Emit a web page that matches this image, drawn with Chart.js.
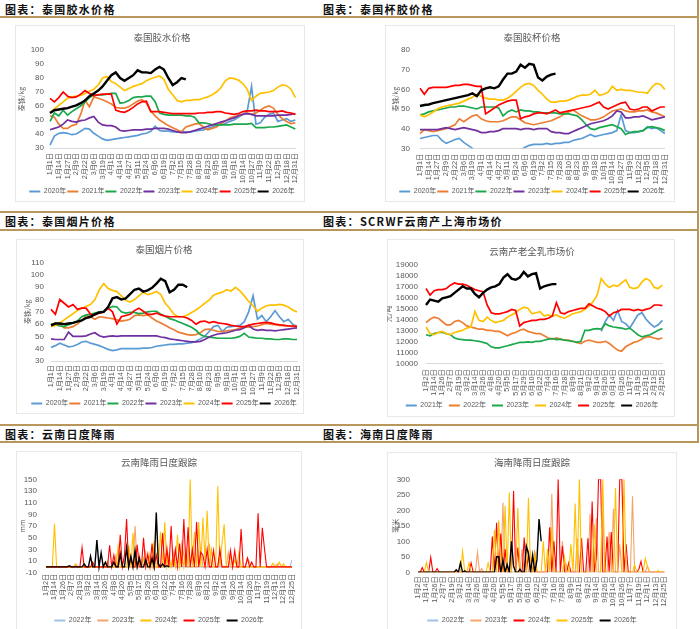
<!DOCTYPE html>
<html><head><meta charset="utf-8">
<script src="https://cdn.jsdelivr.net/npm/chart.js@4.4.1/dist/chart.umd.min.js"></script>
<style>
html,body{margin:0;padding:0;background:#fff;}
body{width:700px;height:629px;position:relative;overflow:hidden;font-family:'Noto Sans CJK SC',sans-serif;}
.hline{position:absolute;left:0;width:698px;height:2px;background:#b9975b;}
.vline{position:absolute;left:697px;width:2px;background:#b9975b;}
.hdr{position:absolute;font-weight:700;font-size:11px;letter-spacing:1.3px;color:#111;line-height:14px;white-space:nowrap;}
.box{position:absolute;background:#fff;border:1px solid #e8e8e8;box-sizing:border-box;}
canvas{position:absolute;}
</style></head><body>
<div class="hdr" style="left:5px;top:2px;">图表：泰国胶水价格</div>
<div class="hdr" style="left:323px;top:2px;">图表：泰国杯胶价格</div>
<div class="hline" style="top:16px;"></div>
<div class="hline" style="top:211px;"></div>
<div class="hdr" style="left:5px;top:214px;">图表：泰国烟片价格</div>
<div class="hdr" style="left:323px;top:214px;">图表：SCRWF云南产上海市场价</div>
<div class="hline" style="top:229px;"></div>
<div class="hline" style="top:424px;"></div>
<div class="hdr" style="left:5px;top:427px;">图表：云南日度降雨</div>
<div class="hdr" style="left:323px;top:427px;">图表：海南日度降雨</div>
<div class="hline" style="top:441px;"></div>
<div class="vline" style="top:0;height:443px;"></div>

<div class="box" style="left:15px;top:25px;width:290px;height:177px;"></div>
<div class="box" style="left:385px;top:25px;width:290px;height:177px;"></div>
<div class="box" style="left:16px;top:239px;width:288px;height:175px;"></div>
<div class="box" style="left:387px;top:239px;width:288px;height:178px;"></div>
<div class="box" style="left:16px;top:451px;width:286px;height:190px;"></div>
<div class="box" style="left:387px;top:452px;width:290px;height:190px;"></div>

<canvas id="c1"></canvas><canvas id="c2"></canvas><canvas id="c3"></canvas>
<canvas id="c4"></canvas><canvas id="c5"></canvas><canvas id="c6"></canvas>
<script>
// ---------- tick labels ----------
const thaiDates = ['1月1日','1月14日','1月27日','2月9日','2月22日','3月6日','3月19日','4月1日','4月14日','4月27日','5月11日','5月24日','6月6日','6月19日','7月2日','7月15日','7月28日','8月10日','8月23日','9月5日','9月18日','10月1日','10月14日','10月27日','11月9日','11月22日','12月5日','12月18日','12月31日'];
const ynDates = ['1月2日','1月14日','1月26日','2月7日','2月19日','3月2日','3月14日','3月26日','4月8日','4月20日','5月5日','5月17日','5月29日','6月10日','6月22日','7月4日','7月16日','7月28日','8月9日','8月21日','9月2日','9月14日','9月26日','10月14日','10月26日','11月7日','11月19日','12月1日','12月13日','12月25日'];

// ---------- 泰国胶水价格 ----------
const latex2020 = [32,38.5,40.5,41,40.5,39.5,40,42,44,43.5,40.5,38.5,36.5,35.5,36,36.5,37,37.5,38,38.5,39,40,40.5,42,45.5,42.5,42,42,41.5,41.5,41.5,41.5,41.5,42,42.5,43,44,45,46,46.5,47.5,49,50,52,54,56,74,47,48,52,54,55,49,50,51,49,50];
const latex2021 = [53,52,47,44,44,46,47,54,64,59.5,66.5,65.5,64.5,63,61.5,59,58.5,58.5,59.5,61.5,63.5,64.5,62,56.5,53,50,48,46,44.5,43,41.5,45,46,47,47.5,45,43,44,45,47.5,49,51.5,52.5,53,54,55,54,55,57,59,60,58.5,54,51,49,47.5,48];
const latex2022 = [49,55,53,57,53.5,56,58,60,63,66,68,68,68,68.5,69,69,62,62.5,64,66,66.5,66.5,67,67,63,55,54,53.5,53.5,53.5,53.5,53,53,52,48,48,47.5,46.5,46.5,46.5,46.5,46.5,47,47,47,47,47.5,44.5,44.5,44.5,45,45,45.5,46,46.5,45,43.5];
const latex2023 = [43,44,45,47,50,49,48.5,49.5,50,51.5,52.5,48.5,46.5,46,46,45,42.5,42,42.5,43,43,43,43.5,43.5,44,44,44,43.5,42.5,41.5,41,41,41.5,42.5,43.5,44.5,45.5,46.5,47.5,48.5,49.5,50.5,51.5,53,54,54.5,54,53,53,53,53,53,53.5,53.5,53.5,54,54.5];
const latex2024 = [55,58,60.5,63,65.5,66.5,67,67.5,69,70.5,72,75,80,81,77.5,76,73.5,71,72.5,74,75,76,78,79.5,80.5,81.5,79,72,68,64,63,64,64,64.5,64.5,65.5,66.5,68,70,73,78,80,79.5,78.5,76,72,64,67,69,69.5,70,71,73.5,75,74.5,72,66];
const latex2025 = [65.5,63,66,70,67,66,66.5,68.5,71,69,67.5,68,68.5,68.5,68.5,57,56,55.5,57,59,61.5,63,63.5,56,56,56,55.5,55,54.5,54.5,54.5,54.5,54.5,54.5,55,55,55.5,55.5,56,56,55,54.5,54,54.5,56,56.5,56.5,57,56.5,56.5,56,56,56,56.5,55.5,55,54];
const latex2026 = [55,57,57.5,58,58.5,59.5,60.5,62,64,67,69,71,74,78,82,84,80,78,80,82,85.5,84,84,83.5,86,88,86,80,75,77,80,79];

// ---------- 泰国胶杯价格 ----------
const cup2020 = [35,35.5,36,36.5,36.5,34,32.5,33.5,34.5,35,33,31.5,30,28,27,27,27,27,27,27,27,27,27,29,30.5,31.5,32,32,32,32.5,32,32.5,32.5,33,33,34,34.5,35,36,37,36,36.5,37,37.5,38,39,47,39,38,38,38.5,39,41,40,40.5,39,37.5];
const cup2021 = [37.5,39.5,39,38.5,39,39.5,40,41,42,45,43.5,45,46.5,47,45,44,43.5,43.5,43.5,44,45,46,46,44.5,43,42.5,42,42.5,43,43.5,44,45,46,47.5,48.5,49.5,48,46.5,45.5,44.5,44.5,45,46,47.5,49,49.5,50,49,48.5,48.5,49,49,49.5,48.5,48,47,46];
const cup2022 = [47,47.5,48.5,49,49.5,50,50.5,51,51,51.5,51.5,51,50.5,50,51,51,51,51,50.5,46.5,48.5,49.5,48.5,49.5,49,49,48.5,48.5,48,48,48,48,47.5,47.5,47.5,47,46.5,44.5,42,40,39.5,40.5,41,41.5,42,41,40,37,38,38.5,38.5,39,40.5,41,40.5,40,39];
const cup2023 = [39.5,39.5,39.5,39.5,39.5,40,40.5,40,39.5,40,40.5,40,39.5,39,38,38,38.5,38.5,39,40,40,40,40,39.5,40,40,39.5,40,40,40,38.5,38,38,37.5,37.5,38.5,39.5,40.5,41.5,42.5,43,43.5,44,45,46.5,49,48.5,45.5,45.5,46,46,46.5,45.5,44.5,45,45.5,46];
const cup2024 = [47,46,47,48.5,50,51,51.5,52,52.5,53,54,55,56,57.5,56.5,55.5,55,55,54.5,54.5,55.5,57,59,61,62.5,63,62,59.5,57.5,55,53.5,53.5,54,54,54.5,55.5,56.5,57,57,57.5,59.5,57,57.5,58.5,61.5,59.5,60,59.5,59.5,59,58.5,58.5,58,61,63,62.5,60];
const cup2025 = [60.5,57.5,60.5,61,61,61,61,61.5,62,62,62.5,62.5,62,61.5,61.5,47.5,49,50.5,52,53,54,54.5,54.5,45,46,46.5,47.5,48,48,47.5,48.5,49.5,48,48.5,49,49.5,50,50.5,51,51.5,52.5,53.5,51,50,51,52,53,53.5,50,49.5,50,51,51,49,50,51,51];
const cup2026 = [51.5,52,52.3,53,53.5,54,54.5,55,55.5,56,56.5,57,58,56.5,59.5,60.5,61,60.5,61.5,65,68,68,69,72.5,71,73,72.5,66,64.5,66.5,67.5,68];

// ---------- 泰国烟片价格 ----------
const rss2020 = [41,42.5,44.5,43,41.5,42,43.5,45.5,46,44.5,43.5,42.5,41,39.5,38.5,39,40,40,40,40,40,40.5,40.5,41,42,42.5,43,43.5,43.5,44,44,44.5,45,46,48,50,54,58,59,54,57.5,58,58.5,59,62,70,83,64,67,62,66,71,66,62,64,60,58];
const rss2021 = [59,61,60,57,57,58,60,63,67,66,64,66,65.5,65,64.5,63.5,62.5,63,64,67,67.5,67,67.5,65,62.5,61,59,57,55.5,53.5,52.5,51.5,51,51.5,53,55.5,56,55,54,54,54.5,55,55.5,56.5,57.5,57.5,58,58.5,59.5,60.5,60,59.5,59,59,58.5,58.5,58.5];
const rss2022 = [60,59.5,58.5,58,59.5,61,62.5,66,67.5,68,69,70,70.5,72.5,74.5,74,70,69,69.5,69.5,68.5,69,70,70.5,70.5,68,66.5,64.5,63.5,62,60.5,59,57.5,55,51.5,50,49.5,49,48.5,48.5,48.5,48.5,49,50,52.5,49.5,49,48.5,48.5,48,48,47.5,47.5,48,48,47.5,47.5];
const rss2023 = [48,47.5,47.5,47.5,53.5,50,50,50,50.5,52,53,50.5,49.5,50,50.5,50,50.5,50.5,50.5,50.5,50.5,50.5,50.5,50.5,50.5,49.5,49,48,47.5,47,46.5,46,45.5,45.5,46,47.5,49.5,51,52,52.5,53,54,55,55.5,57,59,56,55,55.5,55,55,54.5,55,55.5,56,56.5,57];
const rss2024 = [58,59,61,63.5,66,68.5,71,73,74.5,76,80,88,93,89,87.5,86.5,83,79.5,78,80,83,86,84,85,86.5,84,77,73,68,66,66,67.5,69.5,71.5,74,77,79.5,83.5,85,86,88,87,90,87,83,78.5,75,70.5,73,75,75.5,75.5,76,75.5,74,71.5,70];
const rss2025 = [72,68,80,77,74,76,72,73,73,68,67.5,69,70,73,70,60,66,67,68,71,73,70.5,68,68,69,67.5,66.5,66,66,66,66,65,63,60,62,62.5,61,62,61,60.5,60,59,58.5,58,58,59,60,60.5,61,61.5,61,60,59.5,59,58.5,58.5,58];
const rss2026 = [59,60.5,60.5,60,60.5,61,62,63,65,66,68,69.5,70,74,81,82,80,81,84.5,88,89,86.5,87.5,89.5,93,97,95,86,88,92,92,90];

// ---------- 云南产老全乳市场价 ----------
const sh2021 = [null,null,null,null,null,null,null,null,null,null,null,null,null,null,null,null,null,null,null,null,null,null,null,null,null,null,null,null,null,null,null,null,null,null,null,null,null,null,null,null,null,null,null,12900,13800,14400,13900,14800,13800,13600,13200,13800,14400,14600,14000,13600,13300,13500,13900];
const sh2022 = [13700,14000,14200,14100,13800,13500,13500,13800,13900,13700,13400,13300,13200,13100,13100,13000,13000,12900,12900,12700,12500,12700,12800,13000,13100,12900,12800,12700,12700,12500,12300,12200,12300,12200,12100,12100,12000,11900,11800,12000,12100,12000,11900,11900,12000,11800,11500,11200,11100,11500,11700,11900,12000,12200,12400,12400,12300,12200,12300];
const sh2023 = [12600,12500,12700,12800,12800,12700,12600,12300,12200,12150,12100,12100,12050,12000,11900,11800,11500,11400,11400,11500,11600,11700,11800,11900,11900,11950,11900,12000,12000,12100,12200,12250,12150,12200,12100,12050,12000,11900,12000,13000,13000,13100,13150,13100,13600,13400,13300,13250,13200,13100,13200,12900,12600,12400,12500,12600,12800,13000,13150];
const sh2024 = [13300,12700,12600,12800,12900,12700,12600,12800,12900,13000,13200,13300,14700,13900,13800,14200,13900,13700,13800,13900,14200,14400,14600,14900,15100,15000,14500,14600,14700,14300,14400,14300,14400,14200,14100,14300,14500,14600,14700,14900,15200,15600,16200,17700,17200,16900,17100,17000,17300,17600,16900,16800,16900,17400,17700,17500,16900,16800,17100];
const sh2025 = [16800,16200,16600,16700,16700,16800,17100,17300,17200,17200,17100,16900,16700,16600,16500,15300,14600,14500,14500,14600,14700,14900,14800,13400,13700,13800,13900,13900,14000,14000,14100,14300,15500,14600,14500,14700,14800,14900,15000,15000,15400,15200,15000,14900,14700,14300,14600,14700,14900,14900,14900,14800,14900,14800,14900,15000,15300,15300,15250];
const sh2026 = [15300,15800,15700,15600,15900,16000,16100,16400,16700,17000,16800,16800,16300,16000,16400,16700,16900,17000,17200,17800,18100,17700,17600,17800,18300,17900,18100,18200,16800,17000,17100,17200,17200];

// ---------- 云南降雨日度跟踪 (mm) ----------
const ynRain2022 = [0,0,0,0,0,0,0,0,0,0, 0,0,0,0,0,0,0,0,0,0, 0,0,0,0,0,0,0,0,0,0, 0,0,0,0,0,0,0,0,0,0, 0,0,0,0,0,0,0,0,0,0, 0,0,0,0,0,0,0,0,0,0, 0,0,0,0,0,0,0,0,0,0, 0,0,0,0,0,0,0,0,0,0, 0,0,0,0,0,0,0,0,0,0, 0,0,0,0,0,0,0,0,0,0, 0,0,0,0,0,0,0,0,0,0, 0,0,0,0,0,0,12];
const ynRain2023 = [0,0,0,0,0,0,0,0,0,0, 0,0,0,0,5,0,0,0,0,0, 0,0,0,0,0,0,0,0,0,10, 0,0,0,20,0,0,0,0,0,0, 0,0,70,0,20,0,0,25,0,0, 0,0,0,0,0,0,0,35,0,0, 25,0,0,0,40,20,0,0,0,0, 0,0,0,35,0,0,0,40,0,0, 0,0,20,0,0,0,25,0,0,0, 0,0,0,0,0,15,8,0,0,0, 0,0,0,0,0,0,0,0,0,5, 0,0,0,0,0,0,0];
const ynRain2024 = [0,0,0,0,74,0,0,0,0,0, 0,0,0,0,4,0,0,0,0,0, 0,0,0,0,0,0,0,0,0,0, 0,0,0,0,35,0,0,0,0,37, 0,58,0,0,10,0,15,0,0,22, 0,45,0,0,60,0,77,0,20,0, 12,0,55,0,25,0,30,0,150,0, 60,0,77,0,84,10,96,0,30,0, 0,138,0,40,73,0,0,20,0,12, 0,25,0,0,0,0,0,0,0,0, 0,0,0,0,0,0,0,6,0,0, 8,0,5,0,0,0,0];
const ynRain2025 = [0,0,0,0,0,0,0,0,0,0, 0,0,0,0,0,0,0,33,0,0, 0,0,8,0,0,0,0,0,0,0, 37,0,20,0,0,55,0,20,82,0, 15,0,0,38,0,0,50,0,22,0, 40,0,20,0,0,58,0,30,0,70, 0,30,0,40,0,82,0,68,0,30, 0,77,0,25,20,0,30,0,0,28, 0,0,30,0,0,0,0,28,0,28, 0,0,65,0,0,15,0,8,0,0, 92,0,67,32,0,0,0,0,0,0, 0,0,0,0,0,0,0];
const ynRain2026 = [0,0,0,0,0,0,0,0,0,0, 0,2,0,0,0,0,0,0,5,0, 0,18,0,0,46,0,24,0,8,0, 0,0,8,0,0,22,0,0,33,0, 18,0,28,0,15,0,0,12,0,0, 15,0,93,5,0,5,0,2,0];

// ---------- 海南降雨日度跟踪 (毫米) ----------
const hnRain2022 = [0,0,0,0,0,0,0,0,0,0, 0,0,0,0,0,0,0,0,0,0, 0,0,0,0,0,0,0,0,0,0, 0,0,0,0,0,0,0,0,0,0, 0,0,0,0,0,0,0,0,0,0, 0,0,0,0,0,0,0,0,0,0, 0,0,0,0,0,0,0,0,0,0, 0,0,0,0,0,0,0,0,0,0, 0,0,0,0,0,0,0,0,0,0, 0,0,0,0,0,0,0,0,0,0, 0,0,0,0,0,0,0,0,0,0, 0,0,0,0,0,0,0];
const hnRain2023 = [0,0,0,0,0,0,0,0,0,0, 0,0,0,0,0,0,0,0,0,0, 0,0,0,0,0,0,0,0,65,0, 12,0,0,0,0,0,0,0,0,0, 225,0,0,0,0,0,0,0,0,75, 0,0,0,60,0,0,0,0,0,0, 0,0,0,253,0,0,0,0,100,0, 25,0,0,0,0,110,0,0,0,0, 0,188,0,0,175,0,0,200,0,0, 130,0,205,0,0,90,0,0,0,0, 0,245,0,0,0,0,0,0,20,0, 0,0,0,0,0,0,0];
const hnRain2024 = [0,0,15,0,0,0,48,0,0,12, 0,0,0,0,0,0,0,0,0,0, 0,0,0,0,0,30,0,0,0,0, 0,0,0,0,0,115,0,160,0,125, 0,75,0,0,0,262,0,80,0,0, 112,0,60,0,0,60,0,0,0,0, 0,0,145,0,100,0,300,0,85,0, 0,30,0,0,0,0,0,110,0,0, 110,0,228,0,45,300,300,0,0,115, 0,130,0,0,0,300,300,0,90,0, 0,0,0,0,10,35,0,0,0,0, 0,0,0,0,0,0,0];
const hnRain2025 = [0,0,0,0,32,0,0,0,0,0, 0,0,0,0,0,0,0,0,0,0, 0,68,0,0,30,0,0,0,0,0, 0,0,0,30,0,0,138,0,168,0, 0,215,0,257,0,0,0,207,0,0, 0,0,240,0,0,60,0,0,0,100, 0,75,0,145,0,0,0,0,0,50, 0,0,90,0,222,0,300,0,0,0, 0,0,0,155,0,0,0,300,0,0, 0,0,0,272,0,0,0,300,0,0, 0,0,25,0,0,0,0,45,20,0, 0,0,0,5,0,0,0];
const hnRain2026 = [0,0,0,0,0,0,0,0,0,0, 0,0,0,0,0,0,0,0,8,0, 30,0,5,0,0,0,0,0,0,0, 0,0,0,0,0,0,0,50,50,0, 40,0,25,0,100,20,0,0,10,0, 0,85,60,0,55,0,40,172,100];

// ---------- helpers ----------
const FONT = "'Liberation Sans', Arial, 'Noto Sans CJK SC', sans-serif";
const CJK = "'Noto Sans CJK SC', sans-serif";
const GREY = '#595959';
const COL = {blue:'#5B9BD5', orange:'#ED7D31', green:'#1AA84B', purple:'#7030A0', yellow:'#FFC000', red:'#FF0000', black:'#000000', lblue:'#9DC3E6', lorange:'#F4A46B'};

function catLabels(dates, step) {
  const out = [];
  for (let i = 0; i < (dates.length - 1) * step + 1; i++) out.push(i % step === 0 ? dates[i / step] : '');
  return out;
}
function series(names, arrays, colors, widths) {
  const n = names.length;
  return names.map((nm, i) => ({
    label: nm, data: arrays[i], borderColor: colors[i], backgroundColor: colors[i],
    borderWidth: widths[i], pointRadius: 0, pointHoverRadius: 0, tension: 0, fill: false,
    spanGaps: false, order: n - 1 - i
  }));
}
const legendGen = (chart) => Chart.defaults.plugins.legend.labels.generateLabels(chart).map(it => {
  it.lineWidth = 0; it.fillStyle = it.strokeStyle; return it;
});

function build(id, g, labels, datasets, yr) {
  const W = Math.round(2 * (g.legendCx - g.cl));
  const H = Math.round(g.legendY - g.ct + 13.5);
  const y2W = W - (g.plotR - g.cl);
  const yW = g.plotL - g.cl;
  const legH = 7 + g.legPad + 10;
  const xH = H - legH - (g.plotB - g.ct);
  const tfs = 9.5;
  const tTop = g.titleY - g.ct - tfs * 0.6;
  const tBot = (g.plotT - g.ct) - tTop - tfs * 1.2;
  const yTitlePad = (g.yTitleX - g.cl) - 4.2;
  const cv = document.getElementById(id);
  cv.style.left = g.cl + 'px'; cv.style.top = g.ct + 'px';
  cv.style.width = W + 'px'; cv.style.height = H + 'px';
  cv.width = W; cv.height = H;
  new Chart(cv, {
    type: 'line',
    data: { labels: labels, datasets: datasets },
    options: {
      responsive: false, animation: false, events: [],
      layout: { padding: 0 },
      plugins: {
        title: { display: true, text: g.title, color: GREY, font: { size: tfs, family: CJK, weight: 'normal' }, padding: { top: tTop, bottom: tBot } },
        legend: { position: 'bottom', labels: { boxWidth: 11, boxHeight: 2, color: GREY, font: { size: 7, family: FONT }, padding: g.legPad,
          generateLabels: legendGen, sort: (a, b) => a.datasetIndex - b.datasetIndex } },
        tooltip: { enabled: false }
      },
      scales: {
        x: {
          grid: { display: false, drawTicks: false },
          border: { display: g.xBorder, color: '#d9d9d9' },
          ticks: { autoSkip: false, maxRotation: 90, minRotation: 90, padding: g.xPad, color: GREY, font: { size: 7.2, family: FONT } },
          afterFit: (s) => { s.height = xH; }
        },
        y: {
          min: yr.min, max: yr.max,
          grid: { display: false, drawTicks: false },
          border: { display: false },
          ticks: { stepSize: yr.step, autoSkip: false, padding: g.yPad, color: GREY, font: { size: 8, family: FONT },
                   callback: (v) => String(v) },
          title: { display: true, text: g.yTitle, color: GREY, font: { size: 7, family: CJK }, padding: { top: yTitlePad, bottom: 0 } },
          afterFit: (s) => { s.width = yW; }
        },
        y2: {
          position: 'right', display: true,
          grid: { display: false, drawTicks: false }, border: { display: false },
          ticks: { display: false },
          afterFit: (s) => { s.width = y2W; }
        }
      }
    }
  });
}

const yearsA = ['2020年','2021年','2022年','2023年','2024年','2025年','2026年'];
const colsA = [COL.blue, COL.orange, COL.green, COL.purple, COL.yellow, COL.red, COL.black];
const widA = [1.7,1.7,1.7,1.7,1.7,1.7,2.4];
const thaiCats = catLabels(thaiDates, 2);

build('c1', {cl:15, ct:25, plotL:50, plotR:300, plotT:50, plotB:148, titleY:37, legendY:191, legendCx:162, yTitleX:21, legPad:1, xPad:5, yPad:6, xBorder:true, title:'泰国胶水价格', yTitle:'泰铢/kg'},
  thaiCats, series(yearsA, [latex2020, latex2021, latex2022, latex2023, latex2024, latex2025, latex2026], colsA, widA), {min:30, max:100, step:10});

build('c2', {cl:385, ct:25, plotL:420, plotR:667, plotT:50, plotB:148.3, titleY:37, legendY:191, legendCx:532, yTitleX:395, legPad:1, xPad:5.5, yPad:10, xBorder:true, title:'泰国胶杯价格', yTitle:'泰铢/kg'},
  thaiCats, series(yearsA, [cup2020, cup2021, cup2022, cup2023, cup2024, cup2025, cup2026], colsA, widA), {min:30, max:80, step:10});

build('c3', {cl:16, ct:239, plotL:51, plotR:297, plotT:262.7, plotB:361, titleY:249, legendY:403, legendCx:164, yTitleX:27, legPad:1, xPad:4, yPad:7, xBorder:true, title:'泰国烟片价格', yTitle:'泰铢/kg'},
  thaiCats, series(yearsA, [rss2020, rss2021, rss2022, rss2023, rss2024, rss2025, rss2026], colsA, widA), {min:30, max:110, step:10});

build('c4', {cl:387, ct:239, plotL:426, plotR:668, plotT:264.3, plotB:363.3, titleY:251, legendY:405, legendCx:532, yTitleX:388, legPad:6, xPad:6, yPad:8, xBorder:true, title:'云南产老全乳市场价', yTitle:'元/吨'},
  catLabels(ynDates, 2), series(['2021年','2022年','2023年','2024年','2025年','2026年'], [sh2021, sh2022, sh2023, sh2024, sh2025, sh2026],
  [COL.blue, COL.orange, COL.green, COL.yellow, COL.red, COL.black], [1.7,1.7,1.7,1.7,1.7,2.4]), {min:10000, max:19000, step:1000});

const rainCats = catLabels(ynDates, 4);
const yearsR = ['2022年','2023年','2024年','2025年','2026年'];
build('c5', {cl:16, ct:451, plotL:46, plotR:292, plotT:479.3, plotB:572.7, titleY:462, legendY:620, legendCx:159, yTitleX:22, legPad:6, xPad:1, yPad:9, xBorder:false, title:'云南降雨日度跟踪', yTitle:'mm'},
  rainCats, series(yearsR, [ynRain2022, ynRain2023, ynRain2024, ynRain2025, ynRain2026], [COL.lblue, COL.lorange, COL.yellow, COL.red, COL.black], [1.1,1.1,1.1,1.1,1.4]), {min:-10, max:150, step:20});

build('c6', {cl:387, ct:452, plotL:418, plotR:666, plotT:479.3, plotB:572.3, titleY:462, legendY:620, legendCx:532, yTitleX:395, legPad:6, xPad:4, yPad:8, xBorder:false, title:'海南降雨日度跟踪', yTitle:'毫米'},
  rainCats, series(yearsR, [hnRain2022, hnRain2023, hnRain2024, hnRain2025, hnRain2026], [COL.lblue, COL.lorange, COL.red, COL.yellow, COL.black], [1.1,1.1,1.1,1.1,1.4]), {min:0, max:300, step:50});
</script>
</body></html>
